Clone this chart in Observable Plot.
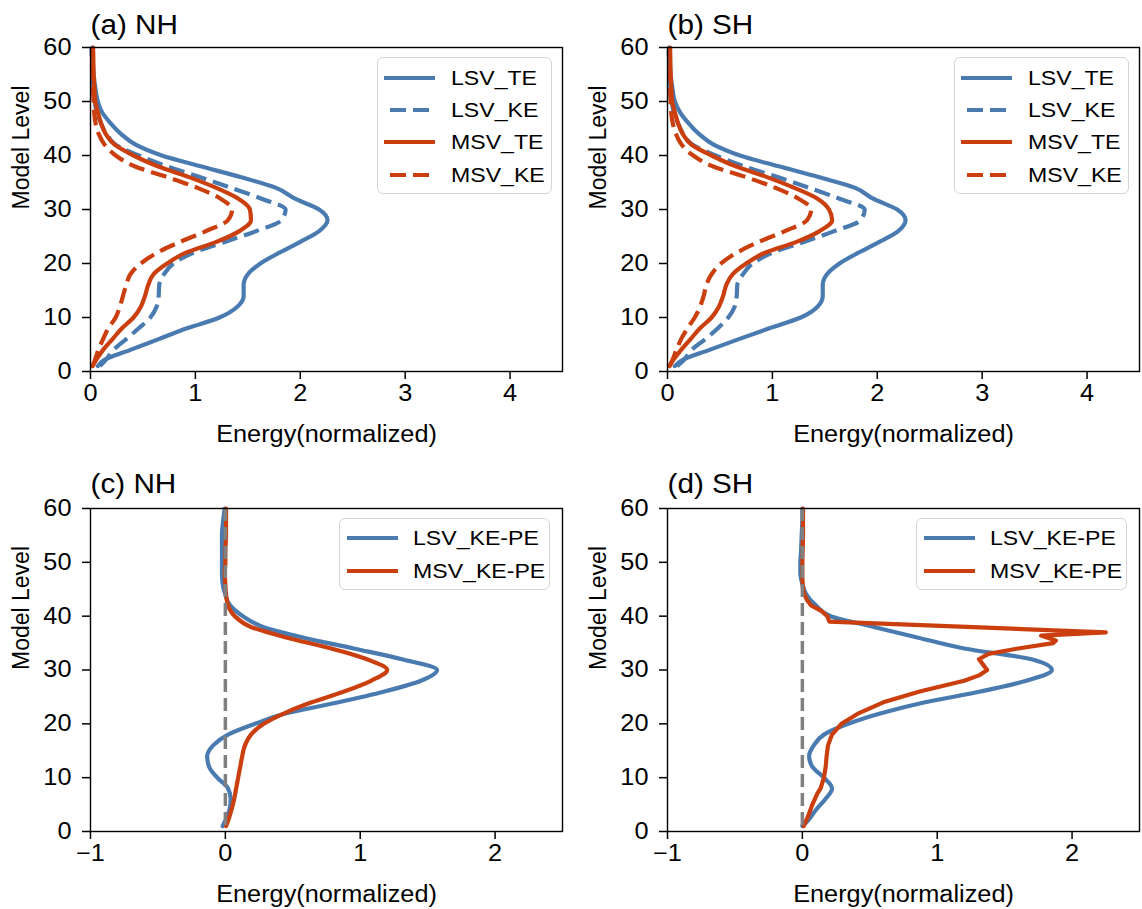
<!DOCTYPE html>
<html><head><meta charset="utf-8">
<script src="https://cdn.jsdelivr.net/npm/d3@7"></script>
<script src="https://cdn.jsdelivr.net/npm/@observablehq/plot@0.6"></script>
<style>
body{margin:0;background:#fff;}
#root{position:relative;width:1142px;height:909px;font-family:"Liberation Sans",Arial,sans-serif;background:#fff;overflow:hidden;}
.panel{position:absolute;}
.legend{position:absolute;border:1.3px solid #d4d4d4;border-radius:6px;background:rgba(255,255,255,0.85);box-sizing:border-box;}
.legend .row{position:absolute;left:0;height:30px;}
.legend .row span{position:absolute;top:0;font-size:21px;color:#000;white-space:nowrap;line-height:30px;transform:scaleX(1.1);transform-origin:left center;}
.legend svg{position:absolute;top:0;left:0;}
</style></head>
<body><div id="root"></div>
<script>
// ---------------- data ----------------
const levels = [1,2,4,6,8,10,12,14,16,18,20,22,24,26,28,30,32,34,36,38,40,42,44,46,48,50,52,55,58,60];

// (a) NH
const nhLsvTE = [0.07,0.12,0.38,0.65,0.92,1.23,1.40,1.46,1.46,1.50,1.62,1.80,2.00,2.18,2.26,2.18,1.95,1.77,1.43,1.05,0.68,0.43,0.29,0.19,0.11,0.07,0.05,0.03,0.02,0.015];
const nhLsvKE = [0.09,0.14,0.22,0.34,0.46,0.57,0.63,0.65,0.655,0.70,0.79,0.98,1.28,1.58,1.82,1.86,1.63,1.34,1.04,0.73,0.46,0.24,0.15,0.10,0.06,0.04,0.03,0.02,0.015,0.01];
const nhMsvTE = [0.02,0.05,0.12,0.21,0.30,0.41,0.48,0.52,0.55,0.60,0.73,0.91,1.20,1.42,1.53,1.52,1.41,1.20,0.94,0.64,0.41,0.23,0.145,0.10,0.07,0.045,0.038,0.03,0.027,0.025];
const nhMsvKE = [0.02,0.04,0.075,0.12,0.17,0.24,0.28,0.31,0.34,0.38,0.48,0.635,0.855,1.10,1.31,1.35,1.24,1.02,0.73,0.42,0.24,0.135,0.078,0.048,0.035,0.03,0.025,0.02,0.02,0.02];

// (b) SH
const shLsvTE = [0.07,0.13,0.40,0.68,0.97,1.27,1.43,1.48,1.48,1.52,1.64,1.82,2.02,2.20,2.27,2.19,1.96,1.79,1.44,1.06,0.69,0.44,0.30,0.20,0.12,0.07,0.05,0.03,0.02,0.015];
const shLsvKE = [0.09,0.15,0.23,0.36,0.48,0.58,0.64,0.66,0.665,0.72,0.81,1.00,1.30,1.59,1.84,1.88,1.64,1.35,1.05,0.73,0.46,0.24,0.15,0.10,0.06,0.04,0.03,0.02,0.015,0.01];
const shMsvTE = [0.02,0.05,0.13,0.22,0.31,0.42,0.49,0.53,0.56,0.62,0.75,0.93,1.23,1.45,1.57,1.54,1.43,1.21,0.95,0.65,0.42,0.23,0.145,0.10,0.07,0.045,0.038,0.03,0.027,0.025];
const shMsvKE = [0.02,0.045,0.085,0.13,0.19,0.26,0.31,0.345,0.37,0.42,0.51,0.66,0.87,1.12,1.33,1.37,1.25,1.03,0.75,0.43,0.245,0.135,0.08,0.05,0.035,0.03,0.025,0.02,0.02,0.02];

// (c) NH KE-PE
const nhLsvKEPE = [-0.02,0.0,0.03,0.04,0.02,-0.06,-0.12,-0.135,-0.09,0.02,0.22,0.46,0.84,1.18,1.45,1.57,1.31,0.95,0.58,0.28,0.13,0.035,0.0,-0.02,-0.025,-0.025,-0.025,-0.025,-0.015,-0.005];
const nhMsvKEPE = [0.005,0.02,0.045,0.065,0.08,0.095,0.11,0.125,0.145,0.19,0.285,0.44,0.64,0.88,1.08,1.20,1.05,0.785,0.46,0.19,0.07,0.02,0.005,0.0,-0.005,0.0,0.0,0.005,0.005,0.005];

// (d) SH KE-PE
const shLsvKEPE = [0.0,0.04,0.10,0.17,0.22,0.16,0.075,0.05,0.085,0.16,0.34,0.59,0.91,1.32,1.66,1.85,1.70,1.20,0.86,0.53,0.21,0.10,0.03,0.0,-0.015,-0.015,-0.01,-0.005,0.0,0.0];
const levelsShMsv = [1,3,5,7,8,10,12,14,16,18,20,22,24,26,28,29,30,31,32,33,34,35,35.5,36.4,37,38,39,40,41,42,43,44,45,47,50,55,60];
const shMsvKEPE = [0.01,0.045,0.074,0.11,0.135,0.16,0.173,0.18,0.19,0.22,0.29,0.42,0.60,0.87,1.20,1.31,1.37,1.34,1.31,1.38,1.60,1.86,1.88,1.77,2.25,1.22,0.20,0.185,0.14,0.065,0.035,0.015,0.005,0.0,0.0,0.005,0.005];

const yTicks = [0,10,20,30,40,50,60];
const xTicksTop = [0,1,2,3,4];
const xTicksBottom = [-1,0,1,2];

const BLUE = "#4a7bb0";
const RED = "#cb3f0e";
const GRAY = "#808080";

// ---------------- drawing ----------------
const root = document.getElementById("root");
const fmt = d => d < 0 ? "\u2212" + (-d) : String(d);

function stretchText(svg, f) {
  svg.querySelectorAll("text").forEach(t => {
    if (t.closest("[transform*='rotate']")) return;
    const L = t.getComputedTextLength();
    if (L > 0) {
      t.setAttribute("textLength", (L * f).toFixed(2));
      t.setAttribute("lengthAdjust", "spacingAndGlyphs");
    }
  });
}

function makePanel(o) {
  const marks = [];
  for (const s of o.series) {
    marks.push(Plot.line(s.vals, {
      x: d => d, y: (d, i) => s.lv[i],
      stroke: s.color, strokeWidth: 4.2,
      strokeDasharray: s.dash || null,
      strokeLinecap: s.dash ? "butt" : "round",
      curve: s.curve || "monotone-y"
    }));
  }
  if (o.zero) marks.push(Plot.ruleX([0], {stroke: GRAY, strokeWidth: 3.5, strokeDasharray: "13,6"}));
  marks.push(
    Plot.frame({stroke: "#000", strokeWidth: 1.4}),
    Plot.axisX({ticks: o.xticks, tickFormat: fmt, tickSize: 8, tickPadding: 5, fontSize: 23, strokeWidth: 1.5, label: null}),
    Plot.axisY({ticks: yTicks, tickFormat: fmt, tickSize: 8, tickPadding: 11, fontSize: 23, strokeWidth: 1.5, label: null}),
    Plot.text([o.title], {text: d => d, frameAnchor: "top-left", textAnchor: "start", lineAnchor: "middle", dy: o.titleDy, fontSize: 27}),
    Plot.text(["Energy(normalized)"], {text: d => d, frameAnchor: "bottom", lineAnchor: "middle", dy: 63, fontSize: 23}),
    Plot.text(["Model Level"], {text: d => d, frameAnchor: "left", lineAnchor: "middle", rotate: -90, dx: -69, fontSize: 23})
  );
  const chart = Plot.plot({
    width: o.width, height: o.height,
    marginLeft: 90, marginRight: o.width - 90 - 472,
    marginTop: o.mt, marginBottom: o.height - o.mt - o.fh,
    x: {domain: o.xdomain},
    y: {domain: [0, 60]},
    style: {fontFamily: "'Liberation Sans', Arial, sans-serif", color: "#000", background: "transparent", overflow: "visible"},
    marks
  });
  const wrap = document.createElement("div");
  wrap.className = "panel";
  wrap.style.left = o.left + "px";
  wrap.style.top = o.top + "px";
  wrap.appendChild(chart);
  root.appendChild(wrap);
  stretchText(chart, 1.1);

  // legend
  const lg = document.createElement("div");
  lg.className = "legend";
  lg.style.left = (o.left + o.legend.x) + "px";
  lg.style.top = (o.top + o.legend.y) + "px";
  lg.style.width = o.legend.w + "px";
  lg.style.height = o.legend.h + "px";
  o.series.forEach((s, i) => {
    const row = document.createElement("div");
    row.className = "row";
    row.style.top = (o.legend.row0 + i * o.legend.step - 15) + "px";
    row.style.width = o.legend.w + "px";
    const svg = d3.create("svg").attr("width", o.legend.w).attr("height", 30);
    svg.append("line").attr("x1", o.legend.lx0).attr("x2", o.legend.lx1).attr("y1", 15).attr("y2", 15)
      .attr("stroke", s.color).attr("stroke-width", 4.2)
      .attr("stroke-dasharray", s.dash ? "16,7" : null)
      .attr("stroke-dashoffset", s.dash ? -6 : null);
    row.appendChild(svg.node());
    const sp = document.createElement("span");
    sp.style.left = o.legend.tx + "px";
    sp.textContent = s.name;
    row.appendChild(sp);
    lg.appendChild(row);
  });
  root.appendChild(lg);
}

const topLegend = {x: 377, y: 57, w: 175, h: 137, row0: 20, step: 32.2, lx0: 6, lx1: 57, tx: 73};
const botLegend = {x: 339, y: 518, w: 211, h: 72, row0: 18.7, step: 33.3, lx0: 7, lx1: 58, tx: 73};
const botLegendAdj = {...botLegend, y: botLegend.y - 460};

makePanel({
  left: 0, top: 0, width: 571, height: 460, mt: 47, fh: 324, titleDy: -22,
  title: "(a) NH", xdomain: [0, 4.5], xticks: xTicksTop, legend: topLegend,
  series: [
    {name: "LSV_TE", vals: nhLsvTE, lv: levels, color: BLUE},
    {name: "LSV_KE", vals: nhLsvKE, lv: levels, color: BLUE, dash: "16,7"},
    {name: "MSV_TE", vals: nhMsvTE, lv: levels, color: RED},
    {name: "MSV_KE", vals: nhMsvKE, lv: levels, color: RED, dash: "16,7"}
  ]
});
makePanel({
  left: 577, top: 0, width: 565, height: 460, mt: 47, fh: 324, titleDy: -22,
  title: "(b) SH", xdomain: [0, 4.5], xticks: xTicksTop, legend: topLegend,
  series: [
    {name: "LSV_TE", vals: shLsvTE, lv: levels, color: BLUE},
    {name: "LSV_KE", vals: shLsvKE, lv: levels, color: BLUE, dash: "16,7"},
    {name: "MSV_TE", vals: shMsvTE, lv: levels, color: RED},
    {name: "MSV_KE", vals: shMsvKE, lv: levels, color: RED, dash: "16,7"}
  ]
});
makePanel({
  left: 0, top: 460, width: 571, height: 449, mt: 48, fh: 323, titleDy: -24, zero: true,
  title: "(c) NH", xdomain: [-1, 2.5], xticks: xTicksBottom, legend: botLegendAdj,
  series: [
    {name: "LSV_KE-PE", vals: nhLsvKEPE, lv: levels, color: BLUE},
    {name: "MSV_KE-PE", vals: nhMsvKEPE, lv: levels, color: RED}
  ]
});
makePanel({
  left: 577, top: 460, width: 565, height: 449, mt: 48, fh: 323, titleDy: -24, zero: true,
  title: "(d) SH", xdomain: [-1, 2.5], xticks: xTicksBottom, legend: botLegendAdj,
  series: [
    {name: "LSV_KE-PE", vals: shLsvKEPE, lv: levels, color: BLUE},
    {name: "MSV_KE-PE", vals: shMsvKEPE, lv: levelsShMsv, color: RED, curve: "linear"}
  ]
});
</script>
</body></html>
